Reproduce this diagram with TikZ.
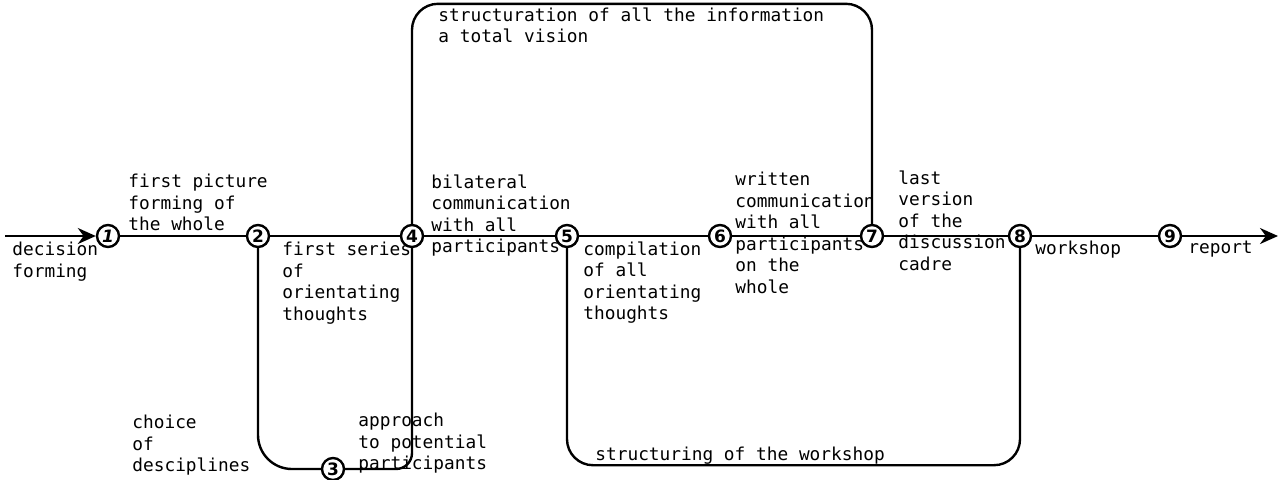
\documentclass[tikz,border=0pt]{standalone}
\usepackage{fontspec}
\newfontfamily\tw{DejaVu Sans Mono}
\newfontfamily\numf{DejaVu Sans}
\usetikzlibrary{arrows.meta}
\tikzset{
  lbl/.style={anchor=north west, inner sep=0pt, align=left,
    font=\tw\fontsize{8.9pt}{10.75pt}\selectfont,
    execute at begin node={\rule{0pt}{7pt}}},
  stage/.style={circle, draw, line width=1.2pt, minimum size=11pt, inner sep=0pt,
    font=\numf\bfseries\fontsize{8.5pt}{8.5pt}\selectfont, fill=white},
  flow/.style={line width=1.2pt},
  bigarrow/.style={-{Stealth[length=9pt,width=8pt]}}
}
\begin{document}
\begin{tikzpicture}[x=0.5pt,y=-0.5pt]
\useasboundingbox (0,0) rectangle (1285,479);
% stage nodes
\node[stage] (n1) at (108,236) {\textit{1}};
\node[stage] (n2) at (258,236) {2};
\node[stage] (n3) at (333,469) {3};
\node[stage] (n4) at (412,236) {4};
\node[stage] (n5) at (567,236) {5};
\node[stage] (n6) at (720,236) {6};
\node[stage] (n7) at (872,236) {7};
\node[stage] (n8) at (1020,236) {8};
\node[stage] (n9) at (1170,236) {9};
\coordinate (start) at (5,236);
\coordinate (end) at (1278,236);
% main line
\draw[flow,bigarrow] (start) -- (n1);
\draw[flow] (n1) -- (n2);
\draw[flow] (n2) -- (n4);
\draw[flow] (n4) -- (n5);
\draw[flow] (n5) -- (n6);
\draw[flow] (n6) -- (n7);
\draw[flow] (n7) -- (n8);
\draw[flow] (n8) -- (n9);
\draw[flow,bigarrow] (n9) -- (end);
% lower left loop
\draw[flow,rounded corners=17pt] (n2.south) |- (n3.west);
\draw[flow,rounded corners=8pt] (n3.east) -| (n4.south);
% top loop
\draw[flow,rounded corners=13pt] (n4.north) -- ++(0,-220) -| (n7.north);
% bottom loop
\draw[flow,rounded corners=13pt] (n5.south) -- ++(0,217) -| (n8.south);
% labels
\node[lbl] (tdec) at (12,242) {decision\\forming};
\node[lbl] (tfp) at (128,174) {first picture\\forming of\\the whole};
\node[lbl] (tfs) at (282,242) {first series\\of\\orientating\\thoughts};
\node[lbl] (tbil) at (431,174) {bilateral\\communication\\with all\\participants};
\node[lbl] (tcomp) at (583,241) {compilation\\of all\\orientating\\thoughts};
\node[lbl] (twr) at (735,172) {written\\communication\\with all\\participants\\on the\\whole};
\node[lbl] (tlast) at (898,170) {last\\version\\of the\\discussion\\cadre};
\node[lbl] (twork) at (1035,240) {workshop};
\node[lbl] (trep) at (1188,239) {report};
\node[lbl] (tstruct) at (438,7) {structuration of all the information\\a total vision};
\node[lbl] (tchoice) at (132,415) {choice\\of\\desciplines};
\node[lbl] (tappr) at (358,413) {approach\\to potential\\participants};
\node[lbl] (tsw) at (595,446) {structuring of the workshop};
\end{tikzpicture}
\end{document}
